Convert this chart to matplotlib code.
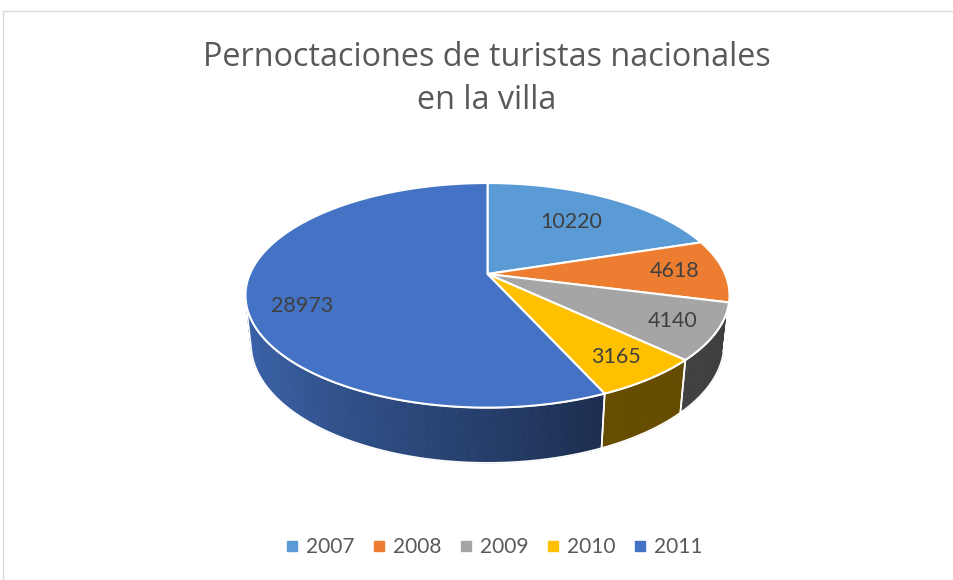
import numpy as np
import matplotlib
matplotlib.use("Agg")
import matplotlib.pyplot as plt
from matplotlib.patches import Polygon, Rectangle
from matplotlib.lines import Line2D
import matplotlib.colors as mcolors

# ---- data ----
years = ["2007", "2008", "2009", "2010", "2011"]
values = [10220, 4618, 4140, 3165, 28973]
colors = ["#5B9BD5", "#ED7D31", "#A5A5A5", "#FFC000", "#4472C4"]
title_lines = ["Pernoctaciones de turistas nacionales", "en la villa"]

plt.rcParams['font.family'] = ['Lato', 'DejaVu Sans']

W, H = 954, 580
fig = plt.figure(figsize=(W / 100, H / 100), dpi=100)
ax = fig.add_axes([0, 0, 1, 1])
ax.set_xlim(0, W)
ax.set_ylim(H, 0)
ax.axis('off')

# ---- 3D projection parameters ----
cx, cy = 487.5, 274.0
R = 237.6
elev = np.radians(27.1)
D = 1113.0
depth = 55.0
se, ce = np.sin(elev), np.cos(elev)


def proj(x, y, z):
    ys = y * se + z * ce
    d = -y * ce + z * se
    s = D / (D - d)
    return cx + x * s, cy - ys * s


def arc(t1, t2, z, n):
    t = np.radians(np.linspace(t1, t2, n))
    return proj(R * np.cos(t), R * np.sin(t), z)


total = float(sum(values))
fr = np.array(values) / total
cum = np.concatenate([[0], np.cumsum(fr)])
starts = 90 - 360 * cum[:-1]
ends = 90 - 360 * cum[1:]

# visible side range
sil = np.degrees(np.arcsin(R / (D * ce)))
vis_lo, vis_hi = -180 + sil, -sil


def shade(theta):
    return np.interp(theta, [-166, -140, -104, -66, -14], [0.88, 0.80, 0.62, 0.40, 0.38])


# ---- sides ----
for i in range(len(values)):
    a = max(ends[i], vis_lo)
    b = min(starts[i], vis_hi)
    if b <= a:
        continue
    base = np.array(mcolors.to_rgb(colors[i]))
    nseg = max(2, int((b - a) * 1.5))
    edges = np.linspace(a, b, nseg + 1)
    for j in range(nseg):
        t1, t2 = edges[j], edges[j + 1]
        xt, yt = arc(t1, t2, 0, 3)
        xb, yb = arc(t2, t1, -depth, 3)
        c = np.clip(base * shade(0.5 * (t1 + t2)), 0, 1)
        ax.add_patch(Polygon(np.column_stack([np.r_[xt, xb], np.r_[yt, yb]]),
                             closed=True, facecolor=c, edgecolor=c, lw=0.6, zorder=2))
    xt, yt = arc(b, a, 0, 80)
    xb, yb = arc(a, b, -depth, 80)
    ax.add_patch(Polygon(np.column_stack([np.r_[xt, xb], np.r_[yt, yb]]),
                         closed=True, facecolor='none', edgecolor='white', lw=1.2, zorder=3))

# ---- tops ----
for i in range(len(values)):
    n = max(10, int((starts[i] - ends[i]) * 2))
    xa, ya = arc(starts[i], ends[i], 0, n)
    x0, y0 = proj(0, 0, 0)
    pts = np.column_stack([np.r_[x0, xa], np.r_[y0, ya]])
    ax.add_patch(Polygon(pts, closed=True, facecolor=colors[i], edgecolor='white',
                         lw=1.5, joinstyle='round', zorder=4))

# ---- labels ----
label_frac = [0.66, 0.79, 0.825, 0.82, 0.79]
label_dtheta = [0, 0, 0, 0, 9]
for i in range(len(values)):
    t = np.radians(0.5 * (starts[i] + ends[i]) + label_dtheta[i])
    r = R * label_frac[i]
    lx, ly = proj(r * np.cos(t), r * np.sin(t), 0)
    ax.text(lx, ly, f"{values[i]}", ha='center', va='center', fontsize=15.5,
            color='#404040', zorder=6)

# ---- title ----
tfam = ['Open Sans', 'Lato', 'DejaVu Sans']
fig.text(487 / W, 1 - 66 / H, title_lines[0], ha='center', va='baseline',
         fontsize=23.3, color='#595959', family=tfam)
fig.text(487 / W, 1 - 109 / H, title_lines[1], ha='center', va='baseline',
         fontsize=23.3, color='#595959', family=tfam)

# ---- legend ----
handles = [Line2D([], [], marker='s', ls='', color=c, markersize=7) for c in colors]
fig.legend(handles, years, loc='center', bbox_to_anchor=(494 / W, 1 - 547 / H),
           ncol=5, frameon=False, fontsize=15, labelcolor='#595959',
           handlelength=0.6, handletextpad=0.35, columnspacing=0.9)

# ---- border ----
fig.patches.append(Rectangle((3.5 / W, -0.05), 1.1, 1 - 10.5 / H + 0.05,
                             transform=fig.transFigure, fill=False,
                             edgecolor='#d9d9d9', lw=1.0))

fig.savefig("out.png", dpi=100)
